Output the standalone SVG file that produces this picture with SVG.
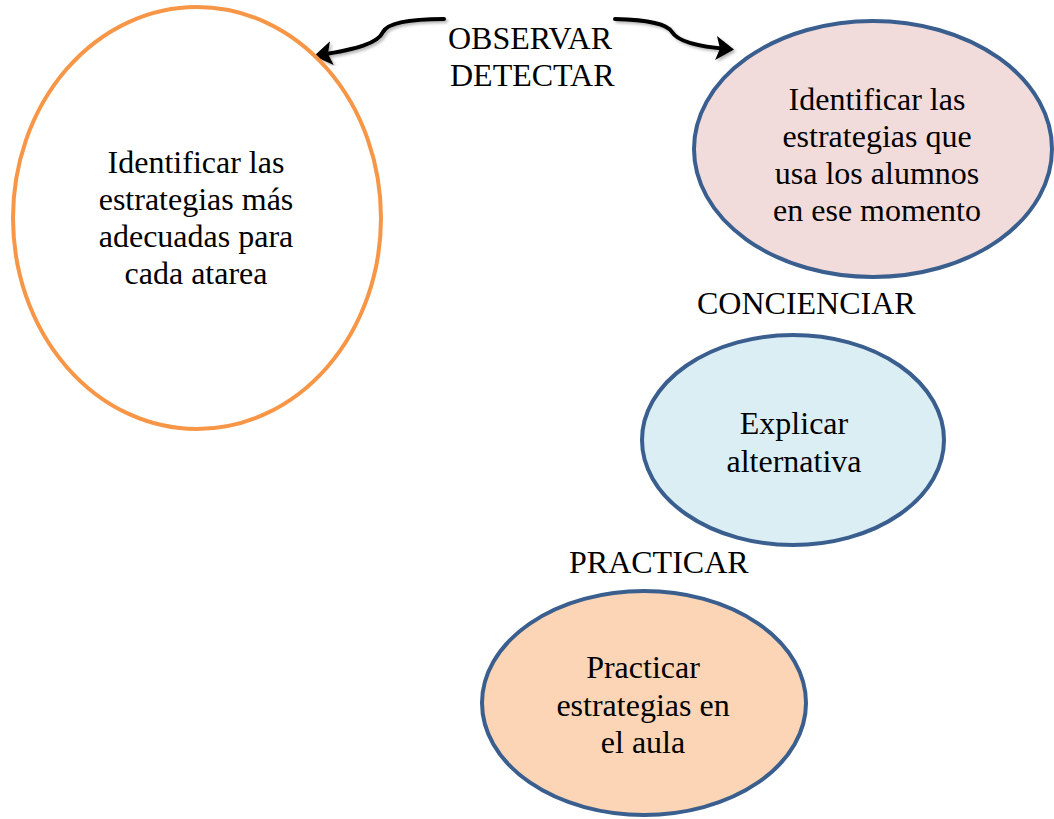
<svg xmlns="http://www.w3.org/2000/svg" width="1054" height="819" viewBox="0 0 1054 819">
<defs>
<style>
.t{font-family:"Liberation Serif","Times New Roman",serif;font-size:32px;fill:#000;text-anchor:middle}
.l{font-family:"Liberation Serif","Times New Roman",serif;font-size:32px;fill:#000}
.b{stroke:#3A5F8F;stroke-width:4}
.c{fill:none;stroke:#000;stroke-width:4;stroke-linecap:round}
</style>
<marker id="ah" markerWidth="7" markerHeight="7" refX="3" refY="3.5" orient="auto" markerUnits="strokeWidth">
<path d="M0,0.5 L4.5,3.5 L0,6.5 L1,3.5 Z" fill="#000"/>
</marker>
<filter id="sh" x="-10%" y="-30%" width="120%" height="160%">
<feDropShadow dx="2" dy="2" stdDeviation="1.5" flood-color="#000" flood-opacity="0.3"/>
</filter>
</defs>
<rect width="1054" height="819" fill="#fff"/>
<g id="connectors" filter="url(#sh)">
<path class="c" d="M444,19 C412,19 388,22 383,32 C378,43 358,49 320,55" marker-end="url(#ah)"/>
<path class="c" d="M615,19 C650,20 667,24 672,32 C678,42 702,47 728,49" marker-end="url(#ah)"/>
</g>
<g id="labels">
<text class="l" x="448" y="49">OBSERVAR</text>
<text class="l" x="450" y="86">DETECTAR</text>
<text class="l" x="697" y="314">CONCIENCIAR</text>
<text class="l" x="569" y="573">PRACTICAR</text>
</g>
<g id="node-left">
<ellipse cx="197" cy="218" rx="184" ry="211" fill="#fff" stroke="#F79646" stroke-width="4"/>
<text class="t" x="196" y="173">Identificar las</text>
<text class="t" x="196" y="210">estrategias más</text>
<text class="t" x="196" y="247">adecuadas para</text>
<text class="t" x="196" y="284">cada atarea</text>
</g>
<g id="node-identify">
<ellipse class="b" cx="873" cy="149" rx="179" ry="128" fill="#F2DCDB"/>
<text class="t" x="877" y="110">Identificar las</text>
<text class="t" x="877" y="147">estrategias que</text>
<text class="t" x="877" y="184">usa los alumnos</text>
<text class="t" x="877" y="221">en ese momento</text>
</g>
<g id="node-explicar">
<ellipse class="b" cx="793" cy="440" rx="151" ry="105" fill="#DBEEF4"/>
<text class="t" x="794" y="434">Explicar</text>
<text class="t" x="794" y="472">alternativa</text>
</g>
<g id="node-practicar">
<ellipse class="b" cx="644" cy="703" rx="162" ry="112" fill="#FBD5B5"/>
<text class="t" x="643" y="678">Practicar</text>
<text class="t" x="643" y="716">estrategias en</text>
<text class="t" x="643" y="753">el aula</text>
</g>
</svg>
